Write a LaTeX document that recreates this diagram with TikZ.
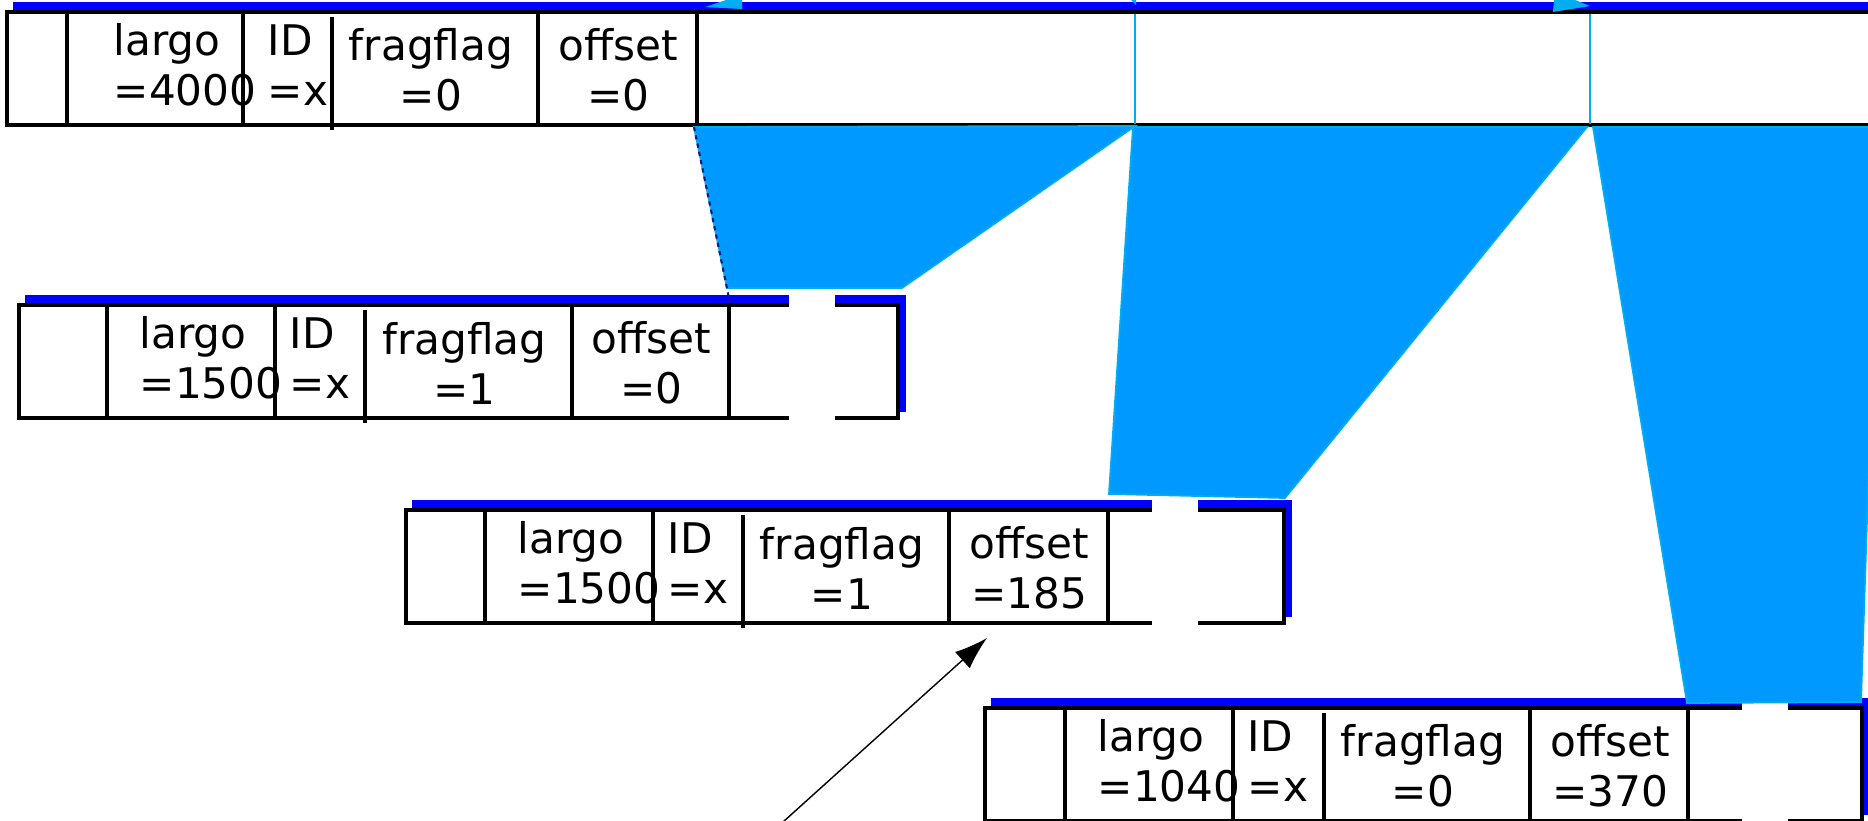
\documentclass[tikz,border=0pt]{standalone}
\usepackage{fontspec}
\setmainfont{DejaVu Sans}
\usetikzlibrary{positioning}
\usetikzlibrary{arrows.meta}
\definecolor{fragblue}{HTML}{0099FF}
\definecolor{edgenavy}{HTML}{1A1A80}

\begin{document}
\begin{tikzpicture}[x=0.01cm,y=-0.01cm]
 \tikzset{field/.style={font=\fontsize{12}{14.2}\selectfont, inner sep=0pt, align=left, anchor=west},
   fieldc/.style={field, align=center, anchor=center},
   frame/.style={draw=black, line width=1pt, fill=white},
   divider/.style={line width=1pt},
   piece/.style={fill=fragblue, draw=cyan, line width=0.5pt}
 }
 \useasboundingbox (0,0) rectangle (1868,821);
 \clip (0,0) rectangle (1868,821);
 % packets: name/left/top/dividers/right/gap/text x/length/flag/offset
 \foreach \p/\l/\t/\ca/\cb/\cc/\cd/\ce/\r/\g/\lx/\ix/\len/\flag/\off in {
   a/7/12/67/243/332/538/697/1900/1950/113/267/4000/0/0,
   b/19/305/107/275/365/572/729/898/789/139/289/1500/1/0,
   c/406/510/485/653/743/949/1108/1284/1152/517/667/1500/1/185,
   d/985/708/1065/1233/1324/1530/1688/1862/1742/1097/1247/1040/0/370}
 {
  \fill[blue] (\l+6,\t-10) rectangle (\r+8,\t+107);
  \draw[frame] (\l,\t) rectangle (\r,\t+113);
  \foreach \c in {\ca,\cb,\cd,\ce}
   \draw[divider] (\c,\t) -- (\c,\t+113);
  \draw[divider] (\cc,\t+5) -- (\cc,\t+118);
  \fill[white] (\g,\t-14) rectangle (\g+46,\t+116);
  \node[field] (\p-largo) at (\lx,\t+53) {largo\\=\len};
  \node[field] (\p-id) at (\ix,\t+53) {ID\\=x};
  \node[fieldc] (\p-flag) at ({(\cc+\cd)/2-4},\t+58) {fragflag\\=\flag};
  \node[fieldc] (\p-off) at ({(\cd+\ce)/2+1},\t+58) {offset\\=\off};
 }
 % the pieces of the data part
 \filldraw[piece] (694,127) -- (1135,126) -- (902,288) -- (727,288) -- cycle;
 \filldraw[piece] (1133,127) -- (1587,127) -- (1285,498) -- (1109,494) -- cycle;
 \filldraw[piece] (1593,127) -- (1880,127) -- (1861,702) -- (1687,703) -- cycle;
 \draw[edgenavy, line width=0.6pt, dash pattern=on 1.2pt off 1.2pt] (694,127) -- (730,303);
 \draw[cyan, line width=0.5pt] (1135,14) -- (1135,124);
 \draw[cyan, line width=0.5pt] (1590,14) -- (1590,124);
 % tips at the upper edge
 \fill[cyan] (705,7) -- (726,0) -- (742,0) -- (742,9) -- cycle;
 \fill[cyan] (1131,0) -- (1136,0) -- (1136,5) -- cycle;
 \fill[cyan] (1553,12) -- (1554,0) -- (1575,0) -- (1590,6) -- cycle;
 \coordinate (tail) at (783,822);
 \coordinate (head) at (987,638);
 \draw[-{Latex[length=3.3mm,width=2.2mm]}, line width=0.4pt] (tail) -- (head);
\end{tikzpicture}
\end{document}
